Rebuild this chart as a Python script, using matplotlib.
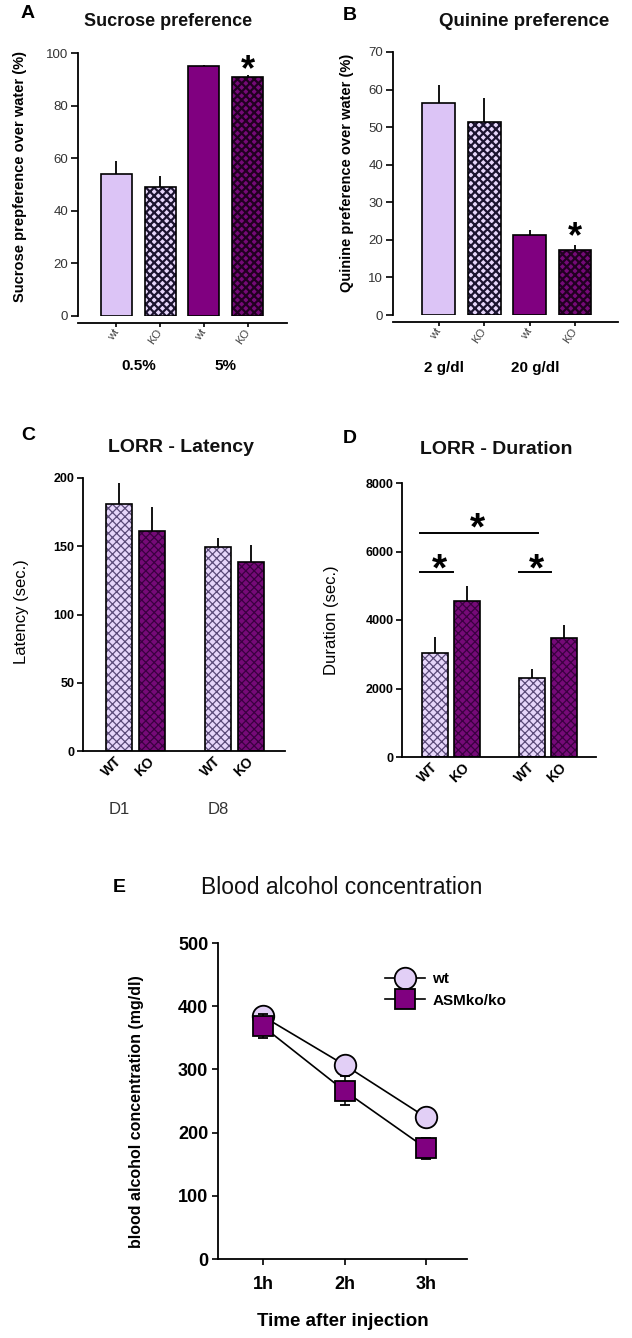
import numpy as np
import matplotlib
matplotlib.use("Agg")
import matplotlib.pyplot as plt
from matplotlib.lines import Line2D

plt.rcParams['font.family'] = ['Liberation Sans', 'DejaVu Sans']
plt.rcParams['hatch.linewidth'] = 1.0

# ---------------- data ----------------
genotypes_ab = ["wt", "KO", "wt", "KO"]
sucrose_groups = ["0.5%", "5%"]
sucrose_mean = [54.0, 49.0, 95.0, 91.0]
sucrose_sem = [4.8, 4.2, 0.4, 0.6]

quinine_groups = ["2 g/dl", "20 g/dl"]
quinine_mean = [56.3, 51.5, 21.3, 17.3]
quinine_sem = [4.9, 6.2, 1.3, 1.3]

genotypes_cd = ["WT", "KO", "WT", "KO"]
days = ["D1", "D8"]
latency_mean = [180.8, 161.3, 149.3, 138.4]
latency_sem = [15.7, 17.5, 6.4, 12.4]

duration_mean = [3026, 4557, 2312, 3483]
duration_sem = [486, 448, 255, 371]

times = ["1h", "2h", "3h"]
bac_wt = [384, 307, 224]
bac_wt_sem = [8, 6, 6]
bac_ko = [368, 266, 175]
bac_ko_sem = [19, 23, 17]

# ---------------- styling ----------------
LIGHT = '#dcc4f6'
LIGHT2 = '#e6d6fa'
DARK = '#800080'
DARK2 = '#760a78'

W, H = 632, 1338
fig = plt.figure(figsize=(W / 100, H / 100), dpi=100)


def rect(l, r, t, b):
    return [l / W, 1 - b / H, (r - l) / W, (b - t) / H]


def hbar(ax, x, h, width, face, hatch=None, hcol='black', hlw=1.0):
    bars = ax.bar(x, h, width, color=face, edgecolor=hcol if hatch else face,
                  hatch=hatch, linewidth=0, zorder=2)
    for p in bars:
        if hasattr(p, 'set_hatch_linewidth'):
            p.set_hatch_linewidth(hlw)
    ax.bar(x, h, width, fill=False, edgecolor='black', linewidth=1.2, zorder=3)


def star(ax, x, y, fs=26):
    ax.annotate('*', xy=(x, y), xytext=(0, -0.58 * fs), textcoords='offset points',
                ha='center', va='baseline', fontsize=fs, fontweight='bold', zorder=5)


def style_axes(ax):
    for s in ['top', 'right']:
        ax.spines[s].set_visible(False)
    for s in ['left', 'bottom']:
        ax.spines[s].set_linewidth(1.3)


# ---------------- Panel A ----------------
axA = fig.add_axes(rect(78, 287, 53, 316))
style_axes(axA)
xa = np.arange(len(sucrose_mean))
axA.errorbar(xa, sucrose_mean, yerr=[np.zeros(4), sucrose_sem], fmt='none',
             ecolor='black', elinewidth=1.3, capsize=0, zorder=1)
hbar(axA, xa[0], sucrose_mean[0], 0.71, LIGHT)
hbar(axA, xa[1], sucrose_mean[1], 0.71, LIGHT2, 'xxxx', '#1c1430', 1.6)
hbar(axA, xa[2], sucrose_mean[2], 0.71, DARK)
hbar(axA, xa[3], sucrose_mean[3], 0.71, DARK2, 'xxxx', '#200020', 1.6)
axA.set_xlim(-0.88, 3.9)
axA.set_ylim(0, 100)
axA.set_yticks(np.arange(0, 101, 20))
axA.spines['bottom'].set_position(('outward', 5))
axA.set_xticks(xa)
axA.set_xticklabels(genotypes_ab, rotation=55, rotation_mode='anchor',
                    ha='right', va='center', fontsize=8, color='#444444')
axA.tick_params(axis='x', length=3, width=1.2, pad=2)
axA.tick_params(axis='y', length=5, width=1.2, labelsize=9.5, labelcolor='#333333', pad=2)
axA.set_ylabel("Sucrose prepference over water (%)", fontsize=10.5, fontweight='bold')
axA.yaxis.set_label_coords(-0.245, 0.53)
for gi, g in enumerate(sucrose_groups):
    axA.text(2 * gi + 0.5, -0.19, g, transform=axA.get_xaxis_transform(),
             ha='center', va='center', fontsize=11, fontweight='bold')
star(axA, xa[3], 97.7)

# ---------------- Panel B ----------------
axB = fig.add_axes(rect(393, 618, 52, 315))
style_axes(axB)
xb = np.arange(len(quinine_mean))
axB.errorbar(xb, quinine_mean, yerr=[np.zeros(4), quinine_sem], fmt='none',
             ecolor='black', elinewidth=1.3, capsize=0, zorder=1)
hbar(axB, xb[0], quinine_mean[0], 0.72, LIGHT)
hbar(axB, xb[1], quinine_mean[1], 0.72, LIGHT2, 'xxxx', '#1c1430', 1.6)
hbar(axB, xb[2], quinine_mean[2], 0.72, DARK)
hbar(axB, xb[3], quinine_mean[3], 0.72, DARK2, 'xxxx', '#200020', 1.6)
axB.set_xlim(-1.01, 3.95)
axB.set_ylim(0, 70)
axB.set_yticks(np.arange(0, 71, 10))
axB.spines['bottom'].set_position(('outward', 5))
axB.set_xticks(xb)
axB.set_xticklabels(genotypes_ab, rotation=55, rotation_mode='anchor',
                    ha='right', va='center', fontsize=8, color='#444444')
axB.tick_params(axis='x', length=3, width=1.2, pad=2)
axB.tick_params(axis='y', length=5, width=1.2, labelsize=9.5, labelcolor='#333333', pad=2)
axB.set_ylabel("Quinine preference over water (%)", fontsize=10.5, fontweight='bold')
axB.yaxis.set_label_coords(-0.173, 0.54)
for gi, g in enumerate(quinine_groups):
    axB.text(2 * gi + 0.12, -0.2, g, transform=axB.get_xaxis_transform(),
             ha='center', va='center', fontsize=11, fontweight='bold')
star(axB, xb[3], 23.5)

# ---------------- Panel C ----------------
axC = fig.add_axes(rect(83, 285, 478, 751))
style_axes(axC)
xc = np.array([0, 1, 3, 4])
axC.errorbar(xc, latency_mean, yerr=[np.zeros(4), latency_sem], fmt='none',
             ecolor='black', elinewidth=1.3, capsize=0, zorder=1)
for i in range(4):
    if i % 2 == 0:
        hbar(axC, xc[i], latency_mean[i], 0.79, LIGHT2, 'xxxx', '#5a4a78', 0.9)
    else:
        hbar(axC, xc[i], latency_mean[i], 0.79, DARK2, 'xxxx', '#3a0040', 0.9)
axC.set_xlim(-1.09, 5.03)
axC.set_ylim(0, 200)
axC.set_yticks(np.arange(0, 201, 50))
axC.set_xticks(xc)
axC.set_xticklabels(genotypes_cd, rotation=45, rotation_mode='anchor',
                    ha='right', va='center', fontsize=10, fontweight='bold')
axC.tick_params(axis='x', length=0, pad=6)
axC.tick_params(axis='y', length=4, width=1.2, pad=2)
for lab in axC.get_yticklabels():
    lab.set_fontweight('bold')
    lab.set_fontsize(9)
axC.set_ylabel("Latency (sec.)", fontsize=12)
axC.yaxis.set_label_coords(-0.267, 0.51)
for di, d in enumerate(days):
    axC.text(xc[2 * di], -0.215, d, transform=axC.get_xaxis_transform(),
             ha='center', va='center', fontsize=12, color='#333333')

# ---------------- Panel D ----------------
axD = fig.add_axes(rect(402, 596, 483, 757))
style_axes(axD)
xd = np.array([0, 1, 3, 4])
axD.errorbar(xd, duration_mean, yerr=[np.zeros(4), duration_sem], fmt='none',
             ecolor='black', elinewidth=1.3, capsize=0, zorder=1)
for i in range(4):
    if i % 2 == 0:
        hbar(axD, xd[i], duration_mean[i], 0.8, LIGHT2, 'xxxx', '#5a4a78', 0.9)
    else:
        hbar(axD, xd[i], duration_mean[i], 0.8, DARK2, 'xxxx', '#3a0040', 0.9)
axD.set_xlim(-1.02, 4.98)
axD.set_ylim(0, 8000)
axD.set_yticks(np.arange(0, 8001, 2000))
axD.set_xticks(xd)
axD.set_xticklabels(genotypes_cd, rotation=45, rotation_mode='anchor',
                    ha='right', va='center', fontsize=10, fontweight='bold')
axD.tick_params(axis='x', length=0, pad=6)
axD.tick_params(axis='y', length=4, width=1.2, pad=2)
for lab in axD.get_yticklabels():
    lab.set_fontweight('bold')
    lab.set_fontsize(9)
axD.set_ylabel("Duration (sec.)", fontsize=12)
axD.yaxis.set_label_coords(-0.325, 0.50)
# significance brackets
axD.plot([0 - 0.45, 3 + 0.2], [6540, 6540], color='black', lw=1.4, clip_on=False)
star(axD, 1.3, 7020, fs=28)
axD.plot([-0.45, 0.55], [5400, 5400], color='black', lw=1.4)
star(axD, 0.15, 5810, fs=28)
axD.plot([2.6, 3.6], [5400, 5400], color='black', lw=1.4)
star(axD, 3.15, 5810, fs=28)

# ---------------- Panel E ----------------
axE = fig.add_axes(rect(218, 467, 943, 1259))
style_axes(axE)
xe = np.arange(1, len(times) + 1)
axE.errorbar(xe, bac_wt, yerr=bac_wt_sem, fmt='-o', color='black', lw=1.2,
             ms=15.5, mfc='#e2cff6', mec='black', mew=1.3, capsize=3.5,
             elinewidth=1.1, capthick=1.1, zorder=3)
axE.errorbar(xe, bac_ko, yerr=bac_ko_sem, fmt='-s', color='black', lw=1.2,
             ms=15, mfc=DARK, mec='black', mew=1.3, capsize=3.5,
             elinewidth=1.1, capthick=1.1, zorder=4)
axE.set_xlim(0.45, 3.5)
axE.set_ylim(0, 500)
axE.set_yticks(np.arange(0, 501, 100))
axE.set_xticks(xe)
axE.set_xticklabels(times)
axE.tick_params(axis='both', length=4, width=1.2)
axE.tick_params(axis='x', pad=8)
axE.tick_params(axis='y', pad=3)
for lab in axE.get_xticklabels() + axE.get_yticklabels():
    lab.set_fontweight('bold')
    lab.set_fontsize(13)
axE.set_xlabel("Time after injection", fontsize=13.5, fontweight='bold')
axE.xaxis.set_label_coords(0.5, -0.171)
axE.set_ylabel("blood alcohol concentration (mg/dl)", fontsize=11.5, fontweight='bold')
axE.yaxis.set_label_coords(-0.297, 0.465)
handles = [
    Line2D([], [], color='black', lw=1.2, marker='o', ms=15.5, mfc='#e2cff6', mec='black', mew=1.3),
    Line2D([], [], color='black', lw=1.2, marker='s', ms=15, mfc=DARK, mec='black', mew=1.3),
]
axE.legend(handles, ["wt", "ASMko/ko"], loc='upper left',
           bbox_to_anchor=((385 - 218) / 249, (1259 - 972) / 316),
           frameon=False, borderpad=0, borderaxespad=0, handlelength=2.6,
           handletextpad=0.5, labelspacing=0.5, numpoints=1,
           prop={'weight': 'bold', 'size': 11})

# ---------------- titles and panel letters ----------------
def ftext(x, y, s, **kw):
    fig.text(x / W, 1 - y / H, s, ha='center', va='center', **kw)

ftext(28, 14, "A", fontsize=14, fontweight='bold')
ftext(350, 15, "B", fontsize=14, fontweight='bold')
ftext(28, 436, "C", fontsize=14, fontweight='bold')
ftext(350, 438, "D", fontsize=14, fontweight='bold')
ftext(119, 887, "E", fontsize=14, fontweight='bold')

ftext(168, 22, "Sucrose preference", fontsize=13, fontweight='bold', color='#111111')
ftext(524, 22, "Quinine preference", fontsize=13.5, fontweight='bold', color='#111111')
ftext(181, 447, "LORR - Latency", fontsize=14, fontweight='bold', color='#111111')
ftext(496, 449, "LORR - Duration", fontsize=14, fontweight='bold', color='#111111')
ftext(342, 887, "Blood alcohol concentration", fontsize=16.5, color='#111111')

fig.savefig("out.png", dpi=100)
